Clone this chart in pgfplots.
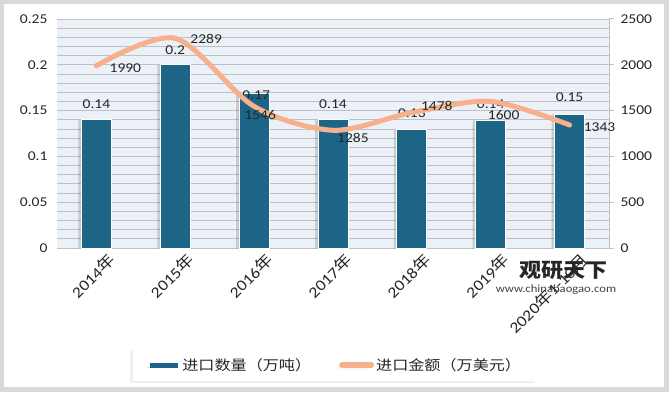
\documentclass[border=0pt]{standalone}
\usepackage{fontspec}
\setmainfont[FakeStretch=1.15]{Carlito}
\newfontfamily\cjk[FakeStretch=1.15]{Noto Sans CJK SC}
\newfontfamily\cjkb[FakeStretch=1.1]{Noto Sans CJK SC Black}
\usepackage{pgfplots}
\pgfplotsset{compat=1.18}
\usetikzlibrary{shadows}
\definecolor{barc}{HTML}{1D6587}
\definecolor{linec}{HTML}{F7B08C}
\definecolor{bgc}{HTML}{EBF1F7}
\definecolor{gridc}{HTML}{BCC1C7}
\definecolor{txt}{HTML}{262626}
\definecolor{frame}{HTML}{D9D9D9}
\newcommand{\fs}{\fontsize{13.5bp}{15bp}\selectfont}
\begin{document}
\begin{tikzpicture}[x=1bp,y=1bp]
\fill[frame] (0,0) rectangle (669,392);
\fill[white] (4,5) rectangle (664,388);
\begin{axis}[
  at={(57bp,144bp)}, anchor=south west,
  scale only axis, width=552bp, height=229bp,
  xmin=-0.5, xmax=6.5, ymin=0, ymax=0.25,
  axis background/.style={fill=bgc},
  axis x line*=bottom, axis y line*=left,
  x axis line style={draw=gridc, line width=1bp},
  y axis line style={draw=none},
  xtick={0,...,6}, xtick style={draw=none},
  xticklabels={2014{\cjk 年},2015{\cjk 年},2016{\cjk 年},2017{\cjk 年},2018{\cjk 年},2019{\cjk 年},2020{\cjk 年}1-10{\cjk 月}},
  xticklabel style={rotate=45, anchor=north east, font=\fontsize{15.5bp}{17bp}\selectfont, text=txt, inner sep=1bp, xshift=6bp, yshift=-9bp},
  ytick={0,0.05,0.1,0.15,0.2,0.25},
  yticklabels={0,0.05,0.1,0.15,0.2,0.25},
  ytick style={draw=none},
  yticklabel style={font=\fs, text=txt, xshift=-6bp},
  minor y tick num=4,
  ymajorgrids, yminorgrids,
  major grid style={draw=gridc, line width=0.8bp},
  minor grid style={draw=gridc, line width=0.8bp},
  /pgf/number format/assume math mode=true,
  clip=false,
]
\addplot[ybar, bar width=30bp, bar shift=-3bp, fill=black, draw=none, opacity=0.15, forget plot]
  coordinates {(0,0.14) (1,0.2) (2,0.169) (3,0.14) (4,0.129) (5,0.139) (6,0.146)};
\addplot[ybar, bar width=30bp, fill=barc, draw=white, line width=1bp]
  coordinates {(0,0.14) (1,0.2) (2,0.169) (3,0.14) (4,0.129) (5,0.139) (6,0.146)};
\begin{scope}[every node/.style={font=\fs, text=txt, inner sep=0pt}]
\node at (axis cs:0,0.14) [yshift=16bp] {0.14};
\node at (axis cs:1,0.2) [yshift=15bp] {0.2};
\node at (axis cs:2,0.169) [yshift=-2bp, xshift=2bp] {0.17};
\node at (axis cs:3,0.14) [yshift=16bp] {0.14};
\node at (axis cs:4,0.129) [yshift=17bp] {0.13};
\node at (axis cs:5,0.139) [yshift=17bp] {0.14};
\node at (axis cs:6,0.146) [yshift=17bp] {0.15};
\end{scope}
\end{axis}
\begin{axis}[
  at={(57bp,144bp)}, anchor=south west,
  scale only axis, width=552bp, height=229bp,
  xmin=-0.5, xmax=6.5, ymin=0, ymax=2500,
  axis x line=none, axis y line*=right,
  y axis line style={draw=gridc, line width=1bp},
  ytick={0,500,...,2500},
  tick align=outside, major tick length=5bp,
  ytick style={draw=gridc, line width=1bp},
  yticklabel style={font=\fs, text=txt, xshift=3bp},
  /pgf/number format/assume math mode=true,
  /pgf/number format/1000 sep={},
  clip=false,
  legend style={at={(0.504,-0.511)}, anchor=center, draw=none, fill=white,
    drop shadow={opacity=0.12, shadow xshift=-3bp, shadow yshift=-2bp},
    font=\cjk\fontsize{14bp}{16bp}\selectfont, text=txt,
    legend columns=2, inner xsep=14bp, inner ysep=7bp,
    /tikz/every even column/.append style={column sep=26bp}},
  legend cell align=left,
]
\addlegendimage{legend image code/.code={\draw[barc, line width=5bp] (0bp,0bp) -- (28bp,0bp);}}
\addlegendentry{进口数量（万吨）}
\addplot[linec, line width=5bp, smooth, line cap=round,
  legend image code/.code={\draw[linec, line width=6bp, line cap=round] (3bp,0bp) -- (32bp,0bp);}]
  coordinates {(0,1990) (1,2289) (2,1546) (3,1285) (4,1478) (5,1600) (6,1343)};
\addlegendentry{进口金额（万美元）}
\begin{scope}[every node/.style={font=\fs, text=txt, inner sep=0pt}]
\node[anchor=west] at (axis cs:0,1990) [xshift=13bp, yshift=-2bp] {1990};
\node[anchor=west] at (axis cs:1,2289) [xshift=15bp, yshift=-1bp] {2289};
\node[anchor=north] at (axis cs:2,1546) [xshift=6bp, yshift=-4bp] {1546};
\node[anchor=west] at (axis cs:3,1285) [xshift=4bp, yshift=-8bp] {1285};
\node[anchor=west] at (axis cs:4,1478) [xshift=9bp, yshift=7bp] {1478};
\node[anchor=north] at (axis cs:5,1600) [xshift=13bp, yshift=-9bp] {1600};
\node[anchor=west] at (axis cs:6,1343) [xshift=14bp, yshift=-2bp] {1343};
\end{scope}
\end{axis}
\node[anchor=center, font=\cjkb\fontsize{20bp}{22bp}\selectfont, text=black!85] at (563,122) {观研天下};
\node[anchor=center, font=\fontsize{11bp}{12bp}\selectfont, text=black!75] at (556,102) {www.chinabaogao.com};
\end{tikzpicture}
\end{document}
